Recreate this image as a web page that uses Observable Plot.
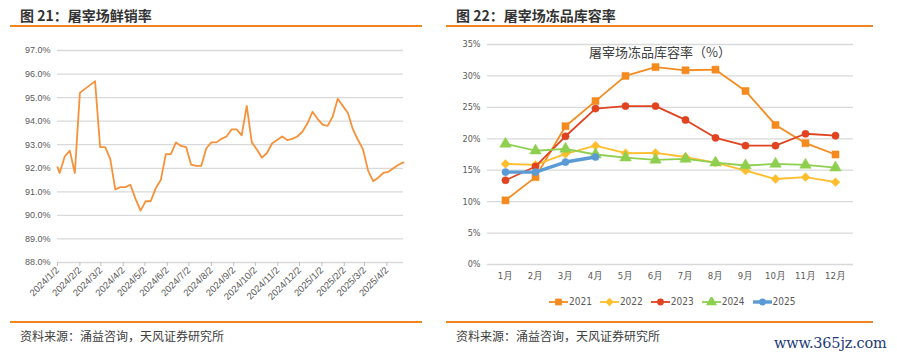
<!DOCTYPE html>
<html><head><meta charset="utf-8">
<script src="https://cdn.jsdelivr.net/npm/d3@7"></script>
<script src="https://cdn.jsdelivr.net/npm/@observablehq/plot@0.6"></script>
<style>
body{margin:0;width:897px;height:360px;background:#fff;position:relative;overflow:hidden;font-family:"Noto Sans CJK SC","Noto Sans",sans-serif;}
.abs{position:absolute;}
.title{font-size:14px;font-weight:bold;color:#333;top:5px;line-height:20px;white-space:nowrap;}
.rule{height:1.5px;background:#F0861E;}
.src{font-size:12px;color:#404040;top:327px;line-height:18px;white-space:nowrap;}
.inner{font-size:13px;color:#404040;top:42px;left:589px;line-height:20px;white-space:nowrap;}
#legend{top:296px;left:549px;display:flex;gap:8px;font-family:"Liberation Sans Narrow","DejaVu Sans Condensed",sans-serif;font-size:10px;color:#595959;align-items:center;}
#legend .it{display:flex;align-items:center;gap:1px;}
.wm{left:774px;top:335px;font-family:"DejaVu Serif",serif;font-size:14.5px;color:#1d3b78;white-space:nowrap;letter-spacing:-0.2px;}
</style></head><body>
<div class="abs title" style="left:20px">图 21：屠宰场鲜销率</div>
<div class="abs rule" style="left:10px;top:25px;width:412px"></div>
<div class="abs title" style="left:456px">图 22：屠宰场冻品库容率</div>
<div class="abs rule" style="left:446px;top:25px;width:427px"></div>
<div id="left" class="abs" style="left:0;top:0"></div>
<div id="right" class="abs" style="left:440px;top:0"></div>
<div class="abs inner">屠宰场冻品库容率（%）</div>
<div id="legend" class="abs"></div>
<div class="abs rule" style="left:10px;top:321px;width:412px"></div>
<div class="abs rule" style="left:446px;top:321px;width:427px"></div>
<div class="abs src" style="left:20px">资料来源：涌益咨询，天风证券研究所</div>
<div class="abs src" style="left:456px">资料来源：涌益咨询，天风证券研究所</div>
<div class="abs wm">www.365jz.com</div>
<script>
// ---------- Left chart: 屠宰场鲜销率 ----------
const freshDates = ["2024-01-02",
"2024-01-05","2024-01-12","2024-01-19","2024-01-26",
"2024-02-02","2024-02-09","2024-02-16","2024-02-23",
"2024-03-01","2024-03-08","2024-03-15","2024-03-22","2024-03-29",
"2024-04-05","2024-04-12","2024-04-19","2024-04-26",
"2024-05-03","2024-05-10","2024-05-17","2024-05-24","2024-05-31",
"2024-06-07","2024-06-14","2024-06-21","2024-06-28",
"2024-07-05","2024-07-12","2024-07-19","2024-07-26",
"2024-08-02","2024-08-09","2024-08-16","2024-08-23","2024-08-30",
"2024-09-06","2024-09-13","2024-09-20","2024-09-27",
"2024-10-04","2024-10-11","2024-10-18","2024-10-25",
"2024-11-01","2024-11-08","2024-11-15","2024-11-22","2024-11-29",
"2024-12-06","2024-12-13","2024-12-20","2024-12-27",
"2025-01-03","2025-01-10","2025-01-17","2025-01-24","2025-01-31",
"2025-02-07","2025-02-14","2025-02-21","2025-02-28",
"2025-03-07","2025-03-14","2025-03-21","2025-03-28",
"2025-04-04","2025-04-11","2025-04-18","2025-04-25"];
const freshRate = [92.05,
91.8,92.5,92.75,91.8,
95.2,95.37,95.53,95.7,
92.9,92.9,92.4,91.1,91.2,
91.2,91.3,90.7,90.2,
90.6,90.6,91.15,91.5,92.6,
92.6,93.1,92.95,92.9,
92.15,92.1,92.1,92.85,
93.1,93.1,93.25,93.35,93.65,
93.65,93.4,94.65,93.1,
92.8,92.45,92.65,93.05,
93.2,93.35,93.2,93.25,93.35,
93.55,93.9,94.4,94.1,
93.85,93.8,94.2,94.95,94.65,
94.35,93.65,93.2,92.8,
91.9,91.45,91.6,91.8,
91.85,92.0,92.15,92.25];
const freshTickLabels = ["2024/1/2","2024/2/2","2024/3/2","2024/4/2","2024/5/2","2024/6/2","2024/7/2","2024/8/2","2024/9/2","2024/10/2","2024/11/2","2024/12/2","2025/1/2","2025/2/2","2025/3/2","2025/4/2"];
const freshYTicks = [88,89,90,91,92,93,94,95,96,97];

const parseSlash = s => { const [y,m,d] = s.split("/").map(Number); return new Date(Date.UTC(y, m-1, d)); };
const tickDates = freshTickLabels.map(parseSlash);
const fmtSlash = d => `${d.getUTCFullYear()}/${d.getUTCMonth()+1}/${d.getUTCDate()}`;
const freshData = freshDates.map((s,i)=>({date:new Date(s+"T00:00:00Z"), v:freshRate[i]}));

const left = Plot.plot({
  width:430, height:310, marginLeft:57, marginRight:27, marginTop:50, marginBottom:48,
  style:{fontFamily:"Liberation Sans, Arial, sans-serif", fontSize:"9px", background:"transparent", overflow:"visible"},
  x:{type:"utc", domain:[freshData[0].date, freshData[freshData.length-1].date]},
  y:{domain:[88,97]},
  marks:[
    Plot.ruleY(freshYTicks, {stroke:"#d9d9d9", strokeWidth:1.3}),
    Plot.axisY({ticks:freshYTicks, tickFormat:d=>d.toFixed(1)+"%", tickSize:0, tickPadding:7, label:null, fill:"#595959"}),
    Plot.axisX({ticks:tickDates, tickFormat:fmtSlash, tickRotate:-45, tickSize:4, tickPadding:2, label:null, stroke:"#bfbfbf", fill:"#595959", fontSize:9.5}),
    Plot.line(freshData, {x:"date", y:"v", stroke:"#F7923A", strokeWidth:1.8})
  ]
});
document.getElementById("left").appendChild(left);

// ---------- Right chart: 屠宰场冻品库容率 ----------
const months = ["1月","2月","3月","4月","5月","6月","7月","8月","9月","10月","11月","12月"];
const s2021 = [10.2,13.9,22.0,26.0,30.0,31.4,30.9,31.0,27.6,22.2,19.3,17.5];
const s2022 = [16.0,15.85,17.6,18.9,17.7,17.75,17.1,16.2,14.95,13.6,13.9,13.1];
const s2023 = [13.4,15.6,20.4,24.8,25.2,25.2,23.0,20.15,18.9,18.9,20.8,20.5];
const s2024 = [19.2,18.1,18.4,17.5,17.0,16.65,16.8,16.2,15.75,16.0,15.85,15.4];
const s2025 = [14.7,14.7,16.3,17.1];
const seriesNames = ["2021","2022","2023","2024","2025"];
const storeYTicks = [0,5,10,15,20,25,30,35];

const seriesDefs = [
  {name:"2021", values:s2021, color:"#F58B1F", symbol:"square",   r:4,   sw:1.8},
  {name:"2022", values:s2022, color:"#FFBE2E", symbol:"diamond2", r:4,   sw:1.8},
  {name:"2023", values:s2023, color:"#E1421F", symbol:"circle",   r:3.6, sw:1.8},
  {name:"2024", values:s2024, color:"#8ECF4F", symbol:"triangle", r:4.3, sw:1.8},
  {name:"2025", values:s2025, color:"#5B9BD5", symbol:"circle",   r:3.6, sw:3.4}
];
const marks = [
  Plot.ruleY(storeYTicks, {stroke:"#d9d9d9", strokeWidth:1.3}),
  Plot.axisY({ticks:storeYTicks, tickFormat:d=>d+"%", tickSize:0, tickPadding:7, label:null, fill:"#595959"}),
  Plot.axisX({tickSize:0, tickPadding:8, label:null, fill:"#595959", fontSize:9.5})
];
for (const s of seriesDefs) {
  const data = s.values.map((v,i)=>({m:months[i], v}));
  marks.push(Plot.line(data, {x:"m", y:"v", stroke:s.color, strokeWidth:s.sw}));
  marks.push(Plot.dot(data, {x:"m", y:"v", fill:s.color, stroke:s.color, strokeWidth:0.5, symbol:s.symbol, r:s.r}));
}
const right = Plot.plot({
  width:457, height:290, marginLeft:47, marginRight:44, marginTop:44, marginBottom:26,
  style:{fontFamily:"'Liberation Sans Narrow','DejaVu Sans Condensed',sans-serif", fontSize:"9px", background:"transparent", overflow:"visible"},
  x:{type:"point", domain:months, padding:0.5},
  y:{domain:[0,35]},
  symbol:{type:"identity"},
  marks
});
document.getElementById("right").appendChild(right);

// ---------- Legend ----------
const symMap = {square:d3.symbolSquare, diamond2:d3.symbolDiamond2, circle:d3.symbolCircle, triangle:d3.symbolTriangle};
const legend = document.getElementById("legend");
for (const s of seriesDefs) {
  const it = document.createElement("div"); it.className = "it";
  const path = d3.symbol(symMap[s.symbol], Math.PI*s.r*s.r*0.9)();
  it.innerHTML = `<svg width="19" height="10"><line x1="0" x2="19" y1="5" y2="5" stroke="${s.color}" stroke-width="${s.sw}"/><path transform="translate(9.5,5)" d="${path}" fill="${s.color}"/></svg><span>${s.name}</span>`;
  legend.appendChild(it);
}
</script>
</body></html>
